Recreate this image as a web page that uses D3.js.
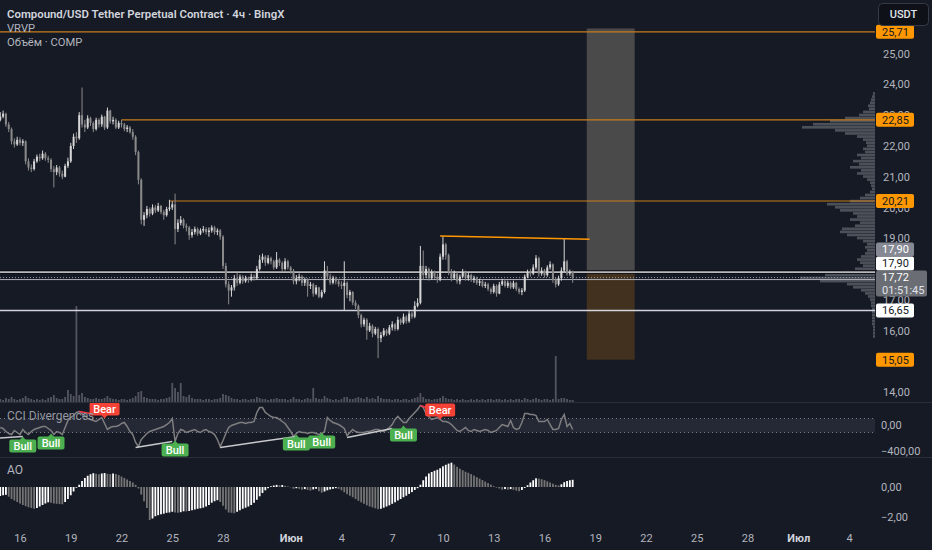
<!DOCTYPE html>
<html>
<head>
<meta charset="utf-8">
<script src="https://cdn.jsdelivr.net/npm/d3@7"></script>
<style>
html, body { margin: 0; padding: 0; background: #161a25; }
svg { display: block; font-family: Roboto, "Liberation Sans", sans-serif; }
</style>
</head>
<body>
<svg id="chart" width="932" height="550"></svg>
<script>
// 4h candles, first one opens 14 May 20:00
const firstOpen = 22.85;
const closes = [
	22.95,23.05,22.70,22.55,22.15,22.05,22.20,22.10,22.15,21.50,
	21.30,21.25,21.50,21.65,21.60,21.75,21.60,21.55,21.25,21.15,
	21.30,21.10,21.00,21.35,21.50,22.00,22.30,22.25,23.00,22.70,
	22.60,22.90,22.75,22.55,22.85,22.70,22.95,22.60,23.15,22.80,
	22.85,22.60,22.75,22.70,22.55,22.60,22.45,22.30,21.80,20.90,
	19.60,19.75,19.95,19.80,20.00,19.90,20.05,19.85,19.75,19.95,
	20.00,20.10,19.30,19.50,19.60,19.40,19.35,19.10,19.20,19.30,
	19.15,19.25,19.30,19.20,19.25,19.35,19.20,19.25,19.05,18.10,
	17.50,17.30,17.40,17.70,17.55,17.75,17.60,17.70,17.65,17.75,
	17.70,18.00,18.30,18.40,18.20,18.35,18.25,18.05,18.30,18.20,
	18.00,18.25,18.05,17.95,17.60,17.70,17.75,17.55,17.65,17.45,
	17.50,17.20,17.40,17.10,17.25,17.95,17.75,17.55,17.70,17.60,
	17.50,17.45,17.55,17.15,17.25,16.90,16.80,16.50,16.20,16.35,
	16.00,16.15,15.90,16.05,15.75,15.85,16.00,15.90,16.10,16.20,
	16.05,16.35,16.25,16.45,16.30,16.55,16.45,16.80,16.90,18.10,
	17.80,18.00,17.70,17.90,17.75,17.65,18.40,18.80,18.45,17.90,
	17.70,17.85,17.60,17.75,17.90,17.70,17.80,17.65,17.70,17.55,
	17.60,17.45,17.50,17.35,17.25,17.45,17.20,17.50,17.60,17.45,
	17.55,17.40,17.55,17.35,17.25,17.30,17.75,17.90,17.85,18.05,
	18.35,17.85,17.95,17.80,18.05,18.15,17.65,17.50,17.70,17.95,
	18.25,17.85,17.90,17.72
];
const highs = [
	23.10,23.15,23.08,22.78,22.60,22.25,22.30,22.28,22.22,22.18,
	21.60,21.40,21.58,21.72,21.75,21.85,21.80,21.68,21.60,21.35,
	21.38,21.35,21.20,21.42,21.62,22.10,22.40,22.45,23.10,23.90,
	22.85,23.00,22.95,22.80,22.92,22.90,23.02,22.98,23.25,23.18,
	22.95,22.90,22.82,22.85,22.75,22.68,22.65,22.55,22.35,21.85,
	20.95,19.85,20.05,20.00,20.10,20.08,20.15,20.08,19.92,20.02,
	20.25,20.20,20.45,19.62,19.72,19.65,19.48,19.40,19.30,19.38,
	19.35,19.32,19.40,19.36,19.35,19.42,19.40,19.32,19.30,19.10,
	18.20,17.60,17.48,17.80,17.88,17.82,17.80,17.78,17.75,17.85,
	17.82,18.10,18.45,18.50,18.45,18.45,18.40,18.30,18.55,18.35,
	18.25,18.35,18.30,18.10,18.00,17.80,17.85,17.80,17.72,17.70,
	17.58,17.55,17.48,17.42,17.32,18.25,18.10,17.85,17.78,17.75,
	17.68,17.60,18.25,17.60,17.32,17.28,16.98,16.85,16.55,16.42,
	16.40,16.25,16.20,16.12,16.10,15.95,16.08,16.05,16.18,16.30,
	16.25,16.45,16.40,16.55,16.50,16.65,16.62,16.95,17.05,18.75,
	18.60,18.10,18.05,17.98,17.95,17.85,18.50,19.05,18.85,18.50,
	18.00,17.95,17.90,17.82,18.00,17.95,17.88,17.85,17.78,17.75,
	17.68,17.65,17.58,17.55,17.40,17.52,17.50,17.58,17.68,17.65,
	17.62,17.60,17.62,17.58,17.40,17.38,17.82,17.98,18.00,18.15,
	18.45,18.40,18.05,18.00,18.12,18.25,18.18,17.72,17.78,18.05,
	19.00,18.30,17.98,17.95
];
const lows = [
	22.80,22.90,22.62,22.45,22.05,21.95,22.00,22.02,22.00,21.40,
	21.20,21.15,21.20,21.45,21.50,21.55,21.52,21.45,21.15,20.65,
	21.05,21.00,20.92,20.98,21.28,21.45,21.90,22.10,22.20,22.60,
	22.45,22.55,22.65,22.45,22.50,22.60,22.62,22.52,22.55,22.72,
	22.70,22.55,22.55,22.60,22.48,22.45,22.40,22.20,21.70,20.75,
	19.45,19.40,19.65,19.70,19.75,19.82,19.85,19.78,19.60,19.70,
	19.88,19.92,18.80,19.20,19.42,19.32,19.22,18.95,19.02,19.12,
	19.08,19.10,19.18,19.12,19.05,19.18,19.12,19.10,18.95,18.00,
	17.40,16.85,17.10,17.30,17.45,17.50,17.52,17.55,17.55,17.60,
	17.62,17.65,17.95,18.20,18.10,18.15,18.15,17.98,18.00,18.10,
	17.92,17.95,17.98,17.85,17.50,17.50,17.60,17.45,17.45,17.10,
	17.35,17.10,17.15,17.05,17.05,17.20,17.65,17.48,17.50,17.50,
	17.42,17.35,16.65,17.05,16.95,16.82,16.70,16.40,16.10,16.12,
	15.70,15.95,15.78,15.85,15.10,15.62,15.80,15.82,15.85,16.00,
	15.98,16.00,16.18,16.20,16.22,16.25,16.38,16.40,16.75,16.85,
	17.65,17.70,17.62,17.65,17.68,17.55,17.60,18.30,18.30,17.80,
	17.60,17.65,17.52,17.50,17.70,17.62,17.62,17.58,17.55,17.48,
	17.45,17.40,17.38,17.28,17.18,17.20,17.10,17.18,17.45,17.40,
	17.38,17.35,17.35,17.28,17.18,17.15,17.25,17.70,17.75,17.80,
	17.98,17.75,17.78,17.72,17.75,17.98,17.55,17.40,17.45,17.62,
	17.90,17.78,17.78,17.55
];
// volume, thousands COMP
const volumes = [
	3,2,4,3,5,3,2,3,4,6, 4,3,2,3,2,3,2,4,5,7, 4,3,3,5,12,8,6,96,7,9,
	5,4,3,3,4,3,3,4,6,4, 3,3,2,3,3,2,3,4,6,10, 11,5,4,3,3,3,2,3,3,4,
	5,19,14,10,19,6,5,7,4,3, 3,3,2,3,3,2,3,3,4,8, 7,6,4,3,3,2,3,3,2,3,
	3,5,4,3,3,2,3,3,4,3, 3,3,2,3,5,3,3,2,3,4, 3,14,4,3,3,6,4,3,2,3,
	2,3,5,5,3,3,4,5,4,3, 5,3,4,3,6,4,3,3,3,2, 3,3,2,3,3,2,3,4,5,9,
	5,3,3,2,3,3,4,6,4,3, 3,2,3,2,3,2,2,3,2,3, 2,3,2,3,3,2,3,3,2,3,
	2,3,2,3,3,2,4,3,2,3, 4,3,2,3,3,2,3,46,3,4, 4,3,2,2
];
const cciValues = [
	-29,-43,-86,-114,-129,-71,-100,-129,-57,-100,
	-129,-86,-57,-43,-29,-14,-14,-43,-71,-129,
	-86,-100,-129,-29,71,114,143,186,200,171,
	143,100,86,71,57,86,114,29,-57,-29,
	-14,-14,0,29,43,-14,-86,-129,-243,-300,
	-200,-157,-114,-86,-71,-57,-43,-29,-14,14,
	43,100,-229,-114,-57,-71,-100,-86,-71,-57,
	-86,-100,-71,-57,-86,-100,-129,-200,-300,-214,
	-114,-29,0,14,29,43,43,29,43,43,
	57,186,257,257,186,157,129,114,114,86,
	57,29,-29,-86,-157,-114,-86,-100,-100,-114,
	-100,-100,-114,-129,-114,-86,114,71,43,29,
	14,-14,-43,-143,-100,-57,-86,-100,-100,-100,
	-86,-86,-71,-57,-57,-71,-86,-57,-29,14,
	86,129,86,43,43,100,143,186,229,286,
	257,171,129,86,100,114,86,57,57,43,
	14,-29,-71,-86,-57,-29,-71,-86,-57,-71,
	-86,-71,-57,-71,-100,-86,-71,-29,14,0,
	-14,71,-29,-57,-43,43,171,171,157,157,
	143,57,57,57,86,14,-57,-57,-43,86,
	157,-14,29,-57
];
const aoValues = [
	-0.60,-0.55,-0.52,-0.65,-0.80,-0.90,-1.00,-1.10,-1.20,-1.28,
	-1.35,-1.40,-1.45,-1.40,-1.30,-1.20,-1.10,-1.02,-1.05,-1.10,
	-1.12,-1.14,-1.15,-1.00,-0.80,-0.55,-0.30,-0.05,0.15,0.40,
	0.60,0.75,0.85,0.92,0.88,0.85,0.90,0.93,0.88,0.86,
	0.90,0.87,0.80,0.70,0.60,0.50,0.40,0.30,0.15,-0.10,
	-0.50,-0.95,-1.40,-2.20,-2.10,-1.95,-1.88,-1.82,-1.78,-1.72,
	-1.70,-1.65,-1.70,-1.72,-1.68,-1.62,-1.63,-1.60,-1.55,-1.50,
	-1.45,-1.42,-1.38,-1.30,-1.20,-1.05,-0.95,-0.88,-1.00,-1.25,
	-1.50,-1.70,-1.72,-1.75,-1.65,-1.55,-1.45,-1.38,-1.30,-1.20,
	-1.05,-0.85,-0.62,-0.40,-0.22,-0.08,0.05,0.10,0.14,0.12,
	0.13,0.08,0.04,-0.02,-0.12,-0.08,-0.12,-0.18,-0.14,-0.20,
	-0.24,-0.16,-0.12,-0.28,-0.38,-0.30,-0.22,-0.16,-0.12,-0.08,
	-0.12,-0.22,-0.35,-0.48,-0.58,-0.68,-0.80,-0.92,-1.02,-1.12,
	-1.22,-1.30,-1.36,-1.42,-1.48,-1.45,-1.38,-1.30,-1.22,-1.12,
	-1.02,-0.90,-0.80,-0.68,-0.58,-0.46,-0.34,-0.20,-0.08,0.15,
	0.45,0.70,0.90,1.00,1.08,1.15,1.25,1.38,1.48,1.56,
	1.62,1.50,1.35,1.22,1.12,1.02,0.95,0.86,0.76,0.66,
	0.56,0.46,0.36,0.26,0.16,0.06,-0.04,-0.10,-0.18,-0.14,
	-0.18,-0.14,-0.19,-0.24,-0.28,-0.20,-0.06,0.12,0.30,0.45,
	0.58,0.56,0.52,0.46,0.38,0.30,0.22,0.14,0.10,0.18,
	0.32,0.40,0.45,0.48
];
// visible range volume profile, 0.10 rows from 23.70 down
const profileTop = 23.70;
const profileStep = 0.10;
const profileVolumes = [
	2,3,4,5,7,6,12,16,30,45, 62,73,40,30,18,12,9,8,12,10,
	18,14,22,16,25,14,18,12,8,5, 4,3,5,10,15,25,48,40,35,22,
	18,25,15,20,33,35,28,18,12,8, 10,8,10,14,18,15,12,20,32,50,
	75,55,28,22,14,10,7,5,4,4, 3,3,3,3,3,3,2,2,2,2
];
// drawn levels: price and first bar
const levelPrices = [25.71, 22.85, 20.21, 17.90, 16.65];
const levelFromBar = [-8, 43, 60, -8, -8];
const levelKinds = ['orange', 'orange', 'orange', 'entry', 'white'];
const trendBars = [156, 209];
const trendPrices = [19.07, 18.97];
// long position tool
const positionBars = [208, 225];
const positionPrices = [25.82, 17.90, 15.05];
// right scale labels
const labelPrices = [25.71, 22.85, 20.21, 17.90, 17.90, 17.72, 16.65, 15.05];
const labelTexts = ['25,71', '22,85', '20,21', '17,90', '17,90', '17,72', '16,65', '15,05'];
const labelKinds = ['orange', 'orange', 'orange', 'white', 'gray', 'last', 'white', 'orange'];
const countdown = '01:51:45';
// 15 and 18 sit fully under labels, as on the original scale
const priceTicks = [14, 16, 17, 19, 20, 21, 22, 23, 24, 25];
const cciTicks = [0, -400];
const aoTicks = [0, -2];
const tickDates = ['2025-05-16','2025-05-19','2025-05-22','2025-05-25','2025-05-28','2025-06-01',
	'2025-06-04','2025-06-07','2025-06-10','2025-06-13','2025-06-16','2025-06-19','2025-06-22',
	'2025-06-25','2025-06-28','2025-07-01','2025-07-04'];
const monthNames = ['Янв','Фев','Мар','Апр','Май','Июн','Июл','Авг','Сен','Окт','Ноя','Дек'];
// CCI divergences
const bullLabelBars = [8, 18, 62, 105, 114, 143];
const bullLabelValues = [-157, -114, -214, -129, -100, 0];
const bearLabelBars = [37, 156];
const bearLabelValues = [100, 86];
const bullLines = [[-3, -186, 8, -157], [48, -314, 61, -229], [78, -314, 105, -157], [123, -171, 139, -43]];
const bearLines = [[28, 200, 32, 171], [149, 286, 151, 257]];

const W = 932, H = 550, plotR = 875;
const bg = '#161a25';
const orange = '#ff9800';

const svg = d3.select('#chart');
svg.append('rect').attr('width', W).attr('height', H).attr('fill', bg);

const x = d3.scaleUtc()
	.domain([new Date(Date.UTC(2025, 4, 16)), new Date(Date.UTC(2025, 6, 4))])
	.range([20, 849]);
const startMs = Date.UTC(2025, 4, 14, 20);
const barTime = i => new Date(startMs + i * 4 * 3600 * 1000);
const bx = i => x(barTime(i));

const y = d3.scaleLinear().domain([14, 25]).range([392, 53.7]);
const yVol = d3.scaleLinear().domain([0, 100]).range([402, 302]);
const yCci = d3.scaleLinear().domain([0, -400]).range([425.5, 453.5]);
const yAo = d3.scaleLinear().domain([0, -2]).range([487, 517]);
const fmt = d => d3.format('.2f')(d).replace('.', ',').replace('-', '−');

// clip paths per pane
const defs = svg.append('defs');
[['clipPrice', 0, 403], ['clipCci', 403, 54], ['clipAo', 458, 70]].forEach(function(c){
	defs.append('clipPath').attr('id', c[0]).append('rect')
		.attr('x', 0).attr('y', c[1]).attr('width', plotR).attr('height', c[2]);
});
const gPrice = svg.append('g').attr('clip-path', 'url(#clipPrice)');
const gCci = svg.append('g').attr('clip-path', 'url(#clipCci)');
const gAo = svg.append('g').attr('clip-path', 'url(#clipAo)');

// pane separators
[402.5, 457.5].forEach(function(v){
	svg.append('line').attr('x1', 0).attr('x2', W).attr('y1', v).attr('y2', v)
		.attr('stroke', '#2a2e39').attr('stroke-width', 1);
});

// position tool
const px0 = bx(positionBars[0]), px1 = bx(positionBars[1]);
gPrice.append('rect').attr('x', px0).attr('width', px1 - px0)
	.attr('y', y(positionPrices[0])).attr('height', y(positionPrices[1]) - y(positionPrices[0]))
	.attr('fill', '#4b4a4a');
gPrice.append('rect').attr('x', px0).attr('width', px1 - px0)
	.attr('y', y(positionPrices[1])).attr('height', y(positionPrices[2]) - y(positionPrices[1]))
	.attr('fill', '#42311f');

// volume
gPrice.selectAll('rect.vol').data(volumes).join('rect').attr('class', 'vol')
	.attr('x', (d, i) => bx(i) - 0.9).attr('width', 1.8)
	.attr('y', d => yVol(d)).attr('height', d => yVol(0) - yVol(d))
	.attr('fill', '#5d606b').attr('opacity', 0.85);

// volume profile
gPrice.selectAll('rect.vp').data(profileVolumes).join('rect').attr('class', 'vp')
	.attr('x', d => plotR - d).attr('width', d => d)
	.attr('y', (d, i) => y(profileTop - i * profileStep + profileStep / 2))
	.attr('height', y(0) - y(profileStep) - 0.4)
	.attr('fill', '#6a6d74').attr('opacity', 0.65);

// horizontal levels
levelPrices.forEach(function(p, k){
	const yy = y(p);
	const x0 = Math.max(0, bx(levelFromBar[k]));
	if(levelKinds[k] === 'orange'){
		gPrice.append('line').attr('x1', x0).attr('x2', plotR).attr('y1', yy).attr('y2', yy)
			.attr('stroke', '#c77d1d').attr('stroke-width', 1.2);
	} else if(levelKinds[k] === 'entry'){
		gPrice.append('line').attr('x1', x0).attr('x2', plotR).attr('y1', yy).attr('y2', yy)
			.attr('stroke', '#0b0d12').attr('stroke-width', 3.5);
		gPrice.append('line').attr('x1', x0).attr('x2', plotR).attr('y1', yy).attr('y2', yy)
			.attr('stroke', '#b8b9bd').attr('stroke-width', 1.8);
	} else {
		gPrice.append('line').attr('x1', x0).attr('x2', plotR).attr('y1', yy).attr('y2', yy)
			.attr('stroke', '#d1d4dc').attr('stroke-width', 1.6);
	}
});
// last price line
const lastPrice = closes[closes.length - 1];
gPrice.append('line').attr('x1', 0).attr('x2', plotR).attr('y1', y(lastPrice)).attr('y2', y(lastPrice))
	.attr('stroke', '#9598a1').attr('stroke-width', 1).attr('stroke-dasharray', '1,2');
gPrice.append('line').attr('x1', 0).attr('x2', plotR).attr('y1', y(lastPrice) + 2).attr('y2', y(lastPrice) + 2)
	.attr('stroke', '#b2b5be').attr('stroke-width', 1);

// candles
const opens = closes.map((c, i) => i ? closes[i - 1] : firstOpen);
const candles = gPrice.selectAll('g.candle').data(closes).join('g').attr('class', 'candle');
candles.append('line')
	.attr('x1', (d, i) => bx(i)).attr('x2', (d, i) => bx(i))
	.attr('y1', (d, i) => y(highs[i])).attr('y2', (d, i) => y(lows[i]))
	.attr('stroke', (d, i) => d >= opens[i] ? '#d6d6d6' : '#8a8a8a').attr('stroke-width', 1);
candles.append('rect')
	.attr('x', (d, i) => bx(i) - 1).attr('width', 2)
	.attr('y', (d, i) => y(Math.max(d, opens[i])))
	.attr('height', (d, i) => Math.max(1, Math.abs(y(d) - y(opens[i]))))
	.attr('fill', (d, i) => d >= opens[i] ? '#d6d6d6' : '#8a8a8a');

// trend line
gPrice.append('line')
	.attr('x1', bx(trendBars[0])).attr('y1', y(trendPrices[0]))
	.attr('x2', bx(trendBars[1])).attr('y2', y(trendPrices[1]))
	.attr('stroke', orange).attr('stroke-width', 1.5);

// legend
svg.append('text').attr('x', 7).attr('y', 18).attr('fill', '#d1d4dc')
	.attr('font-size', 11.4).attr('font-weight', 600)
	.text('Compound/USD Tether Perpetual Contract · 4ч · BingX');
svg.append('text').attr('x', 7).attr('y', 31.5).attr('fill', '#b2b5be').attr('font-size', 11.2).text('VRVP');
svg.append('text').attr('x', 7).attr('y', 46).attr('fill', '#b2b5be').attr('font-size', 11.2).text('Объём · COMP');

// price scale
const yAxis = svg.append('g').attr('transform', 'translate(' + plotR + ',0)')
	.call(d3.axisRight(y).tickValues(priceTicks).tickSize(0).tickPadding(8).tickFormat(fmt));
yAxis.select('.domain').remove();
yAxis.selectAll('text').attr('fill', '#b2b5be').attr('font-size', 11).attr('font-family', 'Roboto, sans-serif');

// scale labels, stacked from the bottom up
const labelStyle = {
	orange: {fill: orange, text: '#131722'},
	white: {fill: '#ffffff', text: '#131722'},
	gray: {fill: '#868993', text: '#ffffff'},
	last: {fill: '#6a6d73', text: '#ffffff'}
};
const labels = labelPrices.map((p, k) => ({p: p, t: labelTexts[k], kind: labelKinds[k]}));
labels.forEach(function(l){
	l.h = l.kind === 'last' ? 26 : 14;
	l.top = y(l.p) - 7;
});
const order = labels.slice().sort((a, b) => b.top - a.top);
let limit = Infinity;
order.forEach(function(l){
	if(l.top + l.h > limit) l.top = limit - l.h;
	limit = l.top;
});
const gLab = svg.append('g');
labels.forEach(function(l){
	const st = labelStyle[l.kind];
	gLab.append('rect').attr('x', 876).attr('y', l.top).attr('width', l.kind === 'last' ? 51 : 38)
		.attr('height', l.h).attr('rx', 2).attr('fill', st.fill);
	gLab.append('text').attr('x', 882).attr('y', l.top + 7).attr('dy', '0.35em')
		.attr('fill', st.text).attr('font-size', 11).text(l.t);
	if(l.kind === 'last'){
		gLab.append('text').attr('x', 882).attr('y', l.top + 19.5).attr('dy', '0.35em')
			.attr('fill', '#e0e3eb').attr('font-size', 11).text(countdown);
	}
});

// currency button
svg.append('rect').attr('x', 878.5).attr('y', 3.5).attr('width', 50).attr('height', 22).attr('rx', 4)
	.attr('fill', '#0f1118').attr('stroke', '#363a45');
svg.append('text').attr('x', 903.5).attr('y', 14.5).attr('dy', '0.35em').attr('text-anchor', 'middle')
	.attr('fill', '#e0e3eb').attr('font-size', 11).attr('font-weight', 500).text('USDT');

// CCI pane
gCci.append('rect').attr('x', 0).attr('width', plotR)
	.attr('y', yCci(100)).attr('height', yCci(-100) - yCci(100))
	.attr('fill', '#787b86').attr('opacity', 0.16);
[100, -100].forEach(function(v){
	gCci.append('line').attr('x1', 0).attr('x2', plotR).attr('y1', yCci(v)).attr('y2', yCci(v))
		.attr('stroke', '#787b86').attr('stroke-dasharray', '1,3');
});
svg.append('text').attr('x', 7).attr('y', 420).attr('fill', '#9598a1').attr('font-size', 12).text('CCI Divergences');
gCci.append('path').datum(cciValues)
	.attr('d', d3.line().x((d, i) => bx(i)).y(d => yCci(d)))
	.attr('fill', 'none').attr('stroke', '#7e7e80').attr('stroke-width', 1.5);
bullLines.forEach(function(s){
	gCci.append('line').attr('x1', bx(s[0])).attr('y1', yCci(s[1])).attr('x2', bx(s[2])).attr('y2', yCci(s[3]))
		.attr('stroke', '#c8c9cc').attr('stroke-width', 1.5);
});
bearLines.forEach(function(s){
	gCci.append('line').attr('x1', bx(s[0])).attr('y1', yCci(s[1])).attr('x2', bx(s[2])).attr('y2', yCci(s[3]))
		.attr('stroke', '#f23645').attr('stroke-width', 1.5);
});
function divLabel(i, v, up){
	const cx = bx(i), tip = yCci(v);
	const w = up ? 27 : 30, h = 13;
	const top = up ? tip + 3 : tip - 3 - h;
	const col = up ? '#4caf50' : '#f44336';
	const g = gCci.append('g');
	g.append('path').attr('fill', col).attr('d', up
		? 'M' + (cx - 3) + ',' + (tip + 3.5) + 'L' + cx + ',' + tip + 'L' + (cx + 3) + ',' + (tip + 3.5) + 'Z'
		: 'M' + (cx - 3) + ',' + (tip - 3.5) + 'L' + cx + ',' + tip + 'L' + (cx + 3) + ',' + (tip - 3.5) + 'Z');
	g.append('rect').attr('x', cx - w / 2).attr('y', top).attr('width', w).attr('height', h).attr('rx', 2).attr('fill', col);
	g.append('text').attr('x', cx).attr('y', top + h / 2).attr('dy', '0.35em').attr('text-anchor', 'middle')
		.attr('fill', '#ffffff').attr('font-size', 11).attr('font-weight', 500).text(up ? 'Bull' : 'Bear');
}
bullLabelBars.forEach((b, k) => divLabel(b, bullLabelValues[k], true));
bearLabelBars.forEach((b, k) => divLabel(b, bearLabelValues[k], false));
cciTicks.forEach(function(v){
	svg.append('text').attr('x', 881).attr('y', Math.min(yCci(v), 451)).attr('dy', '0.35em')
		.attr('fill', '#b2b5be').attr('font-size', 11).text(fmt(v));
});

// AO pane
svg.append('text').attr('x', 7).attr('y', 474).attr('fill', '#b2b5be').attr('font-size', 12).text('AO');
gAo.selectAll('rect.ao').data(aoValues).join('rect').attr('class', 'ao')
	.attr('x', (d, i) => bx(i) - 0.9).attr('width', 1.8)
	.attr('y', d => Math.min(yAo(d), yAo(0))).attr('height', d => Math.abs(yAo(d) - yAo(0)))
	.attr('fill', (d, i) => (i === 0 || d >= aoValues[i - 1]) ? '#ffffff' : '#747474');
aoTicks.forEach(function(v){
	svg.append('text').attr('x', 881).attr('y', yAo(v)).attr('dy', '0.35em')
		.attr('fill', '#b2b5be').attr('font-size', 11).text(fmt(v));
});

// time scale
const ticks = tickDates.map(s => new Date(s + 'T00:00:00Z'));
const xAxis = svg.append('g').attr('transform', 'translate(0,530)')
	.call(d3.axisBottom(x).tickValues(ticks).tickSize(0).tickPadding(4)
		.tickFormat(d => d.getUTCDate() === 1 ? monthNames[d.getUTCMonth()] : d.getUTCDate()));
xAxis.select('.domain').remove();
xAxis.selectAll('text').attr('fill', '#b2b5be').attr('font-size', 11).attr('font-family', 'Roboto, sans-serif')
	.filter(d => d.getUTCDate() === 1).attr('font-weight', 700).attr('fill', '#d1d4dc');
</script>
</body>
</html>
